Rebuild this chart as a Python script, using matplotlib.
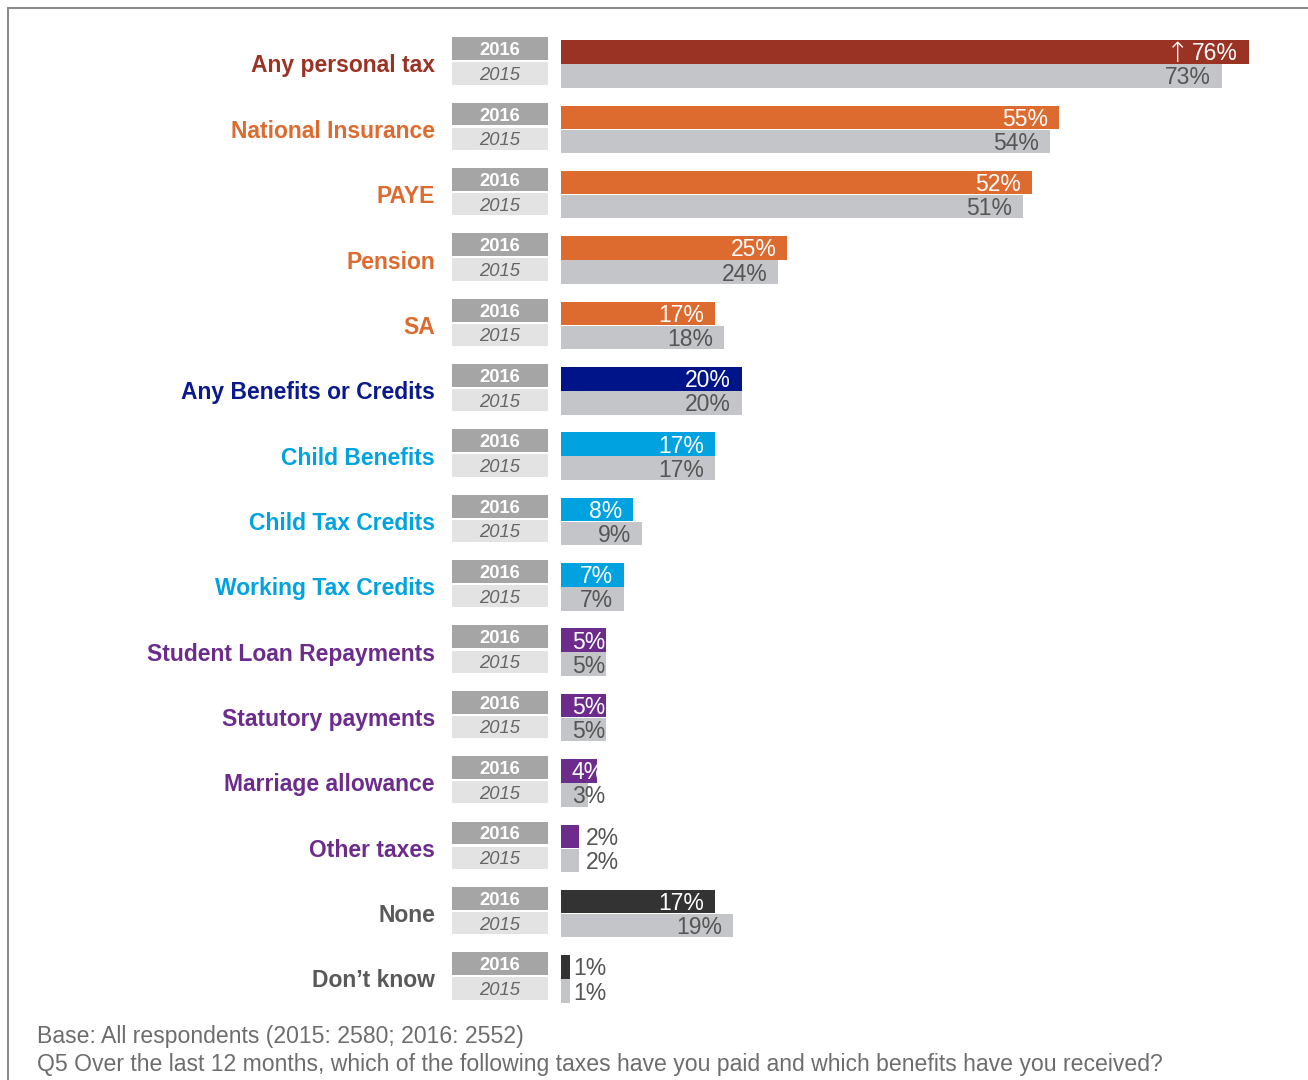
import matplotlib.pyplot as plt
import matplotlib.transforms as mtransforms
from matplotlib.patches import Rectangle

plt.rcParams['font.family'] = ['Liberation Sans', 'DejaVu Sans']

# categories, top to bottom
categories = [
    "Any personal tax", "National Insurance", "PAYE", "Pension", "SA",
    "Any Benefits or Credits", "Child Benefits", "Child Tax Credits",
    "Working Tax Credits", "Student Loan Repayments", "Statutory payments",
    "Marriage allowance", "Other taxes", "None", "Don\u2019t know",
]
values_2016 = [76, 55, 52, 25, 17, 20, 17, 8, 7, 5, 5, 4, 2, 17, 1]
values_2015 = [73, 54, 51, 24, 18, 20, 17, 9, 7, 5, 5, 3, 2, 19, 1]
groups = ["tax", "taxes", "taxes", "taxes", "taxes", "benefit", "benefits",
          "benefits", "benefits", "other", "other", "other", "other",
          "none", "none"]
years = ["2016", "2015"]
significant_2016 = [0]  # rows flagged with an up arrow

label_colours = {"tax": "#9A3324", "taxes": "#DD6A2E", "benefit": "#0A1A8C",
                 "benefits": "#00A3DF", "other": "#6C2C8C", "none": "#595959"}
bar_colours = {"tax": "#9A3324", "taxes": "#DD6A2E", "benefit": "#001489",
               "benefits": "#00A3DF", "other": "#6C2C8C", "none": "#333333"}
GREY_2015 = "#C4C5C8"

W, H = 1308, 1080
fig = plt.figure(figsize=(W / 100, H / 100), dpi=100)

y_top, y_bot = 31.3, 1011.7
ax_b = 1 - y_bot / H
ax_h = (y_bot - y_top) / H

# bar axes: 0% at x=561px, 9.05px per percent
x0 = 561
xmax = 82
ax = fig.add_axes([x0 / W, ax_b, xmax * 9.05 / W, ax_h])
# year tag axes
axy = fig.add_axes([452 / W, ax_b, 96 / W, ax_h])

n = len(categories)
rows = list(range(n))
off = 0.184
bh = 0.36
dy = 0.03  # nudge text down onto the visual centre of the bars

ax.barh([r - off for r in rows], values_2016, height=bh,
        color=[bar_colours[g] for g in groups])
ax.barh([r + off for r in rows], values_2015, height=bh, color=GREY_2015)

for r, (v16, v15) in enumerate(zip(values_2016, values_2015)):
    for v, y, col in ((v16, r - off + dy, "white"), (v15, r + off + dy, "#555555")):
        txt = f"{v}%"
        if v >= 6:
            ax.text(v - 1.2, y, txt, ha="right", va="center",
                    fontsize=16.5, color=col)
        elif v >= 3:
            ax.text(1.2, y, txt, ha="left", va="center",
                    fontsize=16.5, color=col)
        else:
            ax.text(v + 0.35 + (0.4 if v > 1 else 0), y, txt, ha="left",
                    va="center", fontsize=16.5, color="#555555")
        if r in significant_2016 and col == "white":
            # arrow just left of the value label
            ax.annotate("\u2191", xy=(v - 1.2, y), xytext=(-35, 0),
                        textcoords="offset points", ha="right", va="center",
                        fontsize=20, color="white", fontweight="light",
                        family="DejaVu Sans")

ax.set_xlim(0, xmax)
ax.set_ylim(n - 0.5, -0.5)
ax.axis("off")

# year tags
axy.barh([r - off - 0.05 for r in rows], [1] * n, height=0.35, color="#A5A5A5")
axy.barh([r + off - 0.04 for r in rows], [1] * n, height=0.34, color="#E3E3E3")
for r in rows:
    axy.text(0.5, r - off - 0.05 + dy, years[0], ha="center", va="center",
             fontsize=13.2, fontweight="bold", color="white")
    axy.text(0.5, r + off - 0.04 + dy, years[1], ha="center", va="center",
             fontsize=13.2, fontstyle="italic", color="#666666")
axy.set_xlim(0, 1)
axy.set_ylim(n - 0.5, -0.5)
axy.axis("off")

# category labels
trans = mtransforms.blended_transform_factory(fig.transFigure, ax.transData)
for r, (cat, g) in enumerate(zip(categories, groups)):
    ax.text(435 / W, r + dy, cat, transform=trans, ha="right", va="center",
            fontsize=16.5, fontweight="bold", color=label_colours[g])

# footnotes
fig.text(37 / W, 1 - 1036 / H, "Base: All respondents (2015: 2580; 2016: 2552)",
         ha="left", va="center", fontsize=16.6, color="#6D6D6D")
fig.text(37 / W, 1 - 1064 / H,
         "Q5 Over the last 12 months, which of the following taxes have you "
         "paid and which benefits have you received?",
         ha="left", va="center", fontsize=16.6, color="#6D6D6D")

# frame
fig.add_artist(Rectangle((8 / W, -0.1), 1.2, 1.1 - 8 / H, transform=fig.transFigure,
                         fill=False, edgecolor="#8C8C8C", linewidth=1.5))

fig.savefig("out.png", dpi=100)
